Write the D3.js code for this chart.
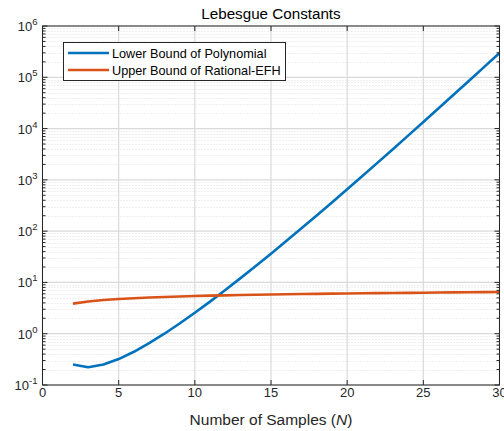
<!DOCTYPE html>
<html>
<head>
<meta charset="utf-8">
<script src="https://cdn.jsdelivr.net/npm/d3@7"></script>
<style>
  html, body { margin: 0; padding: 0; background: #fff; }
  svg { display: block; font-family: Arial, "Liberation Sans", Helvetica, sans-serif; }
</style>
</head>
<body>
<svg id="chart" width="504" height="431"></svg>
<script>
// Number of samples N
const samples = [2,3,4,5,6,7,8,9,10,11,12,13,14,15,16,17,18,19,20,21,22,23,24,25,26,27,28,29,30];

// Lower bound of the polynomial Lebesgue constant
const polyLower = [0.25, 0.2222, 0.25, 0.32, 0.4444, 0.6531, 1, 1.5802, 2.56, 4.2314,
  7.1111, 12.118, 20.898, 36.409, 64, 113.38, 202.27, 363.08, 655.36, 1188.9,
  2166.5, 3964.4, 7281.8, 13422, 24818, 46028, 85598, 159593, 298262];

// Upper bound of the rational (EFH) Lebesgue constant
const rationalUpper = [3.86, 4.26, 4.54, 4.75, 4.93, 5.08, 5.21, 5.32, 5.43, 5.52,
  5.60, 5.68, 5.75, 5.82, 5.88, 5.94, 5.99, 6.05, 6.10, 6.14,
  6.19, 6.23, 6.27, 6.31, 6.35, 6.39, 6.42, 6.46, 6.49];

const seriesNames = ["Lower Bound of Polynomial", "Upper Bound of Rational-EFH"];
const seriesColors = ["#0072BD", "#D95319"];

const xTicks = [0, 5, 10, 15, 20, 25, 30];
const yExponents = [-1, 0, 1, 2, 3, 4, 5, 6];

const svg = d3.select("#chart");
const m = { left: 42.5, right: 499.5, top: 26, bottom: 385 };

const x = d3.scaleLinear().domain([0, 30]).range([m.left, m.right]);
const y = d3.scaleLog().domain([1e-1, 1e6]).range([m.bottom, m.top]);

const axisColor = "#262626";

// minor log values (2..9 per decade)
const minorVals = [];
yExponents.slice(0, -1).forEach(e => {
  for (let k = 2; k <= 9; k++) minorVals.push(k * Math.pow(10, e));
});

const grid = svg.append("g");
// minor horizontal grid (dotted)
grid.selectAll("line.ymin").data(minorVals).join("line")
  .attr("x1", m.left).attr("x2", m.right)
  .attr("y1", d => Math.round(y(d)) + 0.5).attr("y2", d => Math.round(y(d)) + 0.5)
  .attr("stroke", "#e0e0e0").attr("stroke-width", 1)
  .attr("stroke-dasharray", "1,2");
// major grid
grid.selectAll("line.ymaj").data(yExponents.map(e => Math.pow(10, e))).join("line")
  .attr("x1", m.left).attr("x2", m.right)
  .attr("y1", d => y(d)).attr("y2", d => y(d))
  .attr("stroke", "#dadada").attr("stroke-width", 1.2);
grid.selectAll("line.xmaj").data(xTicks).join("line")
  .attr("x1", d => x(d)).attr("x2", d => x(d))
  .attr("y1", m.top).attr("y2", m.bottom)
  .attr("stroke", "#dadada").attr("stroke-width", 1.2);

// data lines
const line = d3.line().x(d => x(d[0])).y(d => y(d[1]));
[polyLower, rationalUpper].forEach((vals, i) => {
  svg.append("path")
    .datum(samples.map((n, j) => [n, vals[j]]))
    .attr("d", line)
    .attr("fill", "none")
    .attr("stroke", seriesColors[i])
    .attr("stroke-width", 2.6)
    .attr("stroke-linejoin", "round");
});

// axes box with inward ticks
const axes = svg.append("g").attr("stroke", axisColor).attr("stroke-width", 1);
axes.append("rect")
  .attr("x", m.left).attr("y", m.top)
  .attr("width", m.right - m.left).attr("height", m.bottom - m.top)
  .attr("fill", "none");
xTicks.forEach(t => {
  axes.append("line").attr("x1", x(t)).attr("x2", x(t)).attr("y1", m.bottom).attr("y2", m.bottom - 5);
  axes.append("line").attr("x1", x(t)).attr("x2", x(t)).attr("y1", m.top).attr("y2", m.top + 5);
});
yExponents.forEach(e => {
  const yy = y(Math.pow(10, e));
  axes.append("line").attr("x1", m.left).attr("x2", m.left + 5).attr("y1", yy).attr("y2", yy);
  axes.append("line").attr("x1", m.right).attr("x2", m.right - 5).attr("y1", yy).attr("y2", yy);
});
minorVals.forEach(v => {
  const yy = y(v);
  axes.append("line").attr("x1", m.left).attr("x2", m.left + 3).attr("y1", yy).attr("y2", yy);
  axes.append("line").attr("x1", m.right).attr("x2", m.right - 3).attr("y1", yy).attr("y2", yy);
});

// x tick labels
svg.append("g").selectAll("text").data(xTicks).join("text")
  .attr("x", d => x(d)).attr("y", 396.5)
  .attr("text-anchor", "middle")
  .attr("font-size", 13).attr("fill", axisColor)
  .text(d => d);

// y tick labels as 10^e
const yl = svg.append("g");
yExponents.forEach(e => {
  const t = yl.append("text")
    .attr("x", 37.5).attr("y", y(Math.pow(10, e)) + 5)
    .attr("text-anchor", "end")
    .attr("font-size", 13).attr("fill", axisColor);
  t.append("tspan").text("10");
  t.append("tspan").attr("dy", -6).attr("font-size", 9.5).text(e);
});

// title
svg.append("text")
  .attr("x", (m.left + m.right) / 2).attr("y", 18.5)
  .attr("text-anchor", "middle")
  .attr("font-size", 15.2).attr("fill", "#000")
  .text("Lebesgue Constants");

// x axis label
const xl = svg.append("text")
  .attr("x", (m.left + m.right) / 2).attr("y", 425)
  .attr("text-anchor", "middle")
  .attr("font-size", 15.5).attr("fill", axisColor);
xl.append("tspan").text("Number of Samples (");
xl.append("tspan").attr("font-style", "italic").text("N");
xl.append("tspan").text(")");

// legend
const lg = svg.append("g");
lg.append("rect")
  .attr("x", 63.5).attr("y", 42.5).attr("width", 222).attr("height", 38)
  .attr("fill", "#fff").attr("stroke", axisColor).attr("stroke-width", 1);
seriesNames.forEach((name, i) => {
  const yy = 53 + i * 17;
  lg.append("line")
    .attr("x1", 68).attr("x2", 109).attr("y1", yy).attr("y2", yy)
    .attr("stroke", seriesColors[i]).attr("stroke-width", 2.6);
  lg.append("text")
    .attr("x", 112).attr("y", yy + 4.5)
    .attr("font-size", 12.7).attr("fill", "#000")
    .text(name);
});
</script>
</body>
</html>
